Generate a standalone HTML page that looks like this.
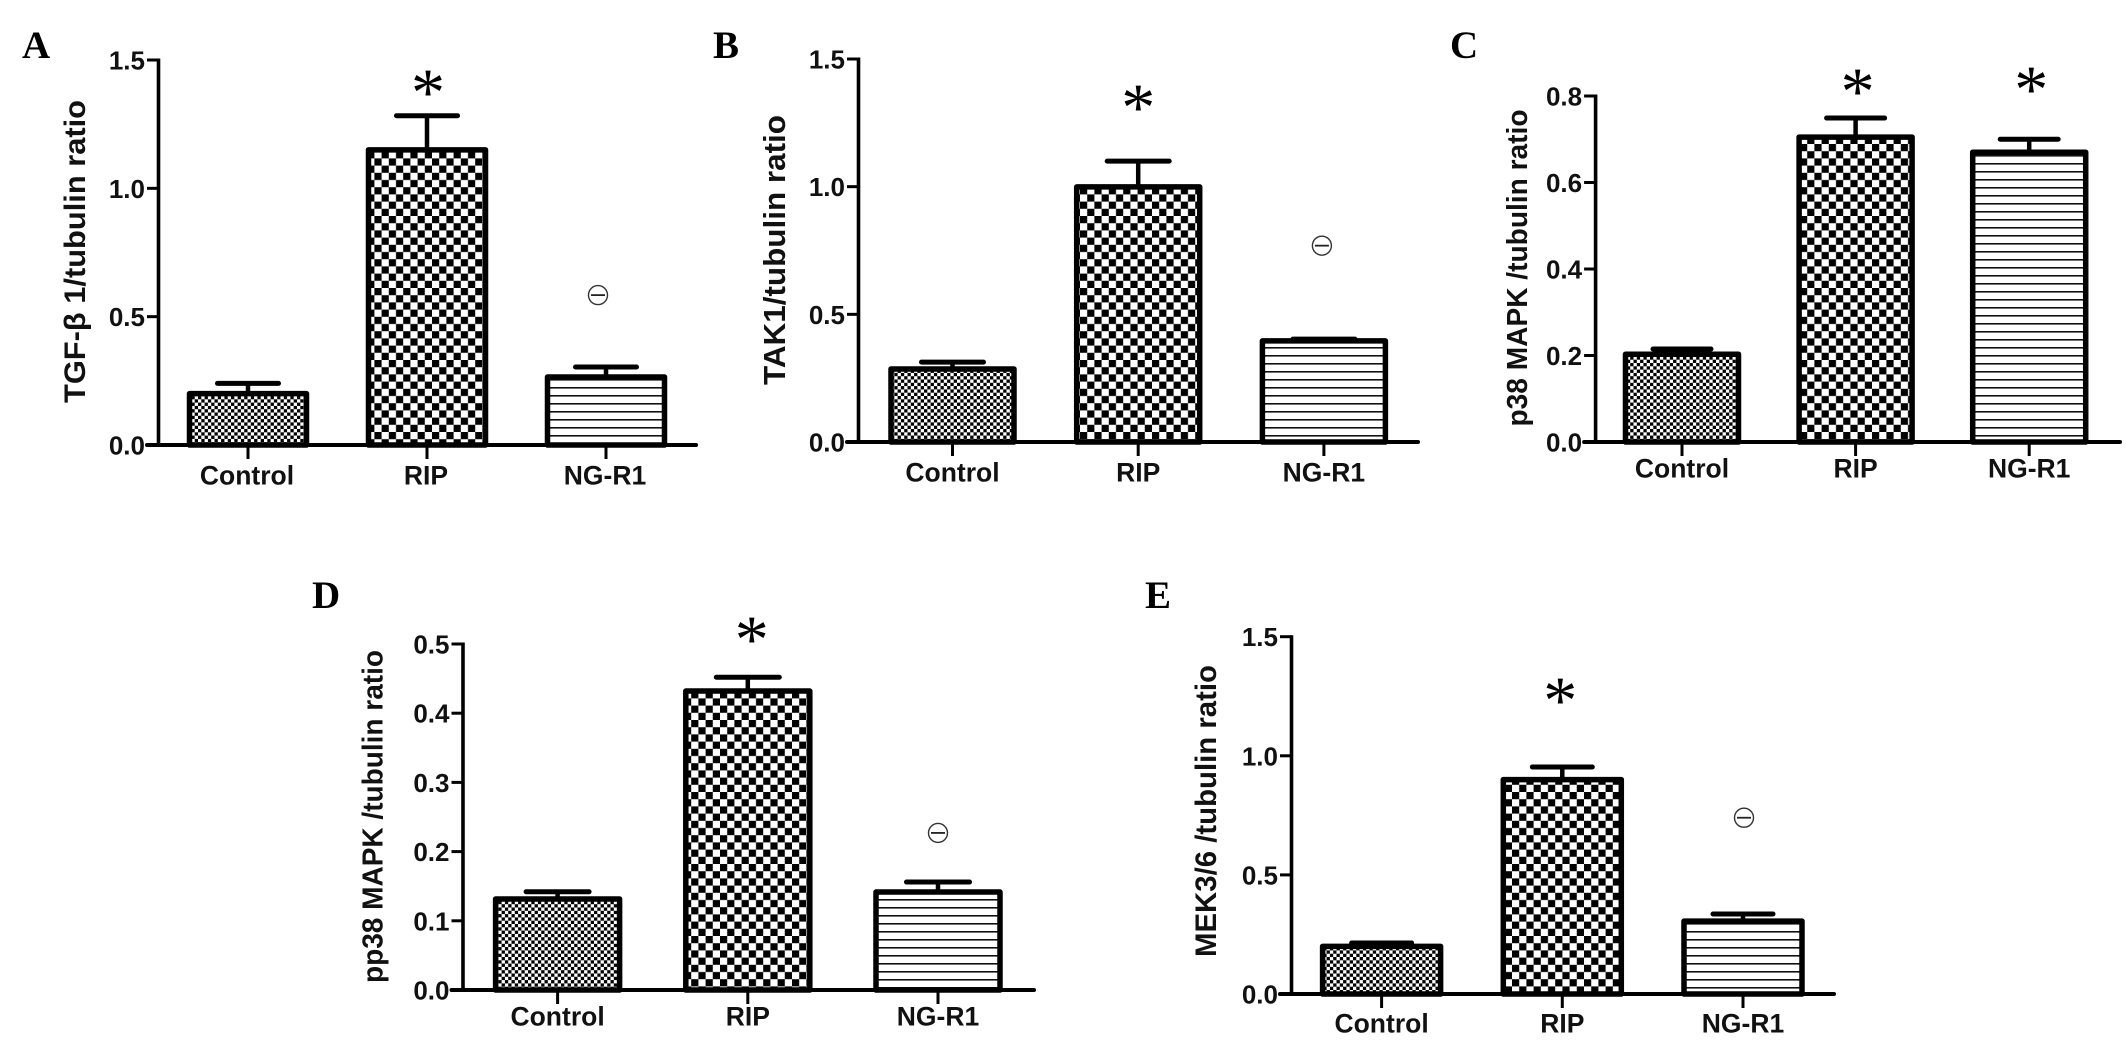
<!DOCTYPE html>
<html lang="en">
<head>
<meta charset="utf-8">
<title>Tubulin ratio bar charts</title>
<style>
  html, body { margin: 0; padding: 0; background: #fff; }
  body { width: 2126px; height: 1042px; overflow: hidden; }
  svg { display: block; }
  text { font-family: "Liberation Sans", Arial, sans-serif; font-weight: 700; fill: #111; }
  text.panel-letter { font-family: "Liberation Serif", "Times New Roman", serif; font-size: 39px; fill: #000; }
  text.star { font-family: "Liberation Serif", "Times New Roman", serif; font-weight: 400; font-size: 68px; fill: #000; }
</style>
</head>
<body>
<svg id="figure" xmlns="http://www.w3.org/2000/svg" width="2126" height="1042" viewBox="0 0 2126 1042">
  <defs>
    <pattern id="fill-fine" patternUnits="userSpaceOnUse" width="6.6" height="6.6">
      <rect width="6.6" height="6.6" fill="#fff"/>
      <rect x="0" y="0" width="3.3" height="3.3" fill="#000"/>
      <rect x="3.3" y="3.3" width="3.3" height="3.3" fill="#000"/>
    </pattern>
    <pattern id="fill-check" patternUnits="userSpaceOnUse" width="14.4" height="14.4">
      <rect width="14.4" height="14.4" fill="#fff"/>
      <rect x="0" y="0" width="7.2" height="7.2" fill="#000"/>
      <rect x="7.2" y="7.2" width="7.2" height="7.2" fill="#000"/>
    </pattern>
    <pattern id="fill-lines" patternUnits="userSpaceOnUse" width="10" height="8">
      <rect width="10" height="8" fill="#fff"/>
      <rect x="0" y="3" width="10" height="1.6" fill="#111"/>
    </pattern>
  </defs>
</svg>
<script>
// ---- Chart data ----
const categories = ['Control', 'RIP', 'NG-R1'];

const ticksA = ['0.0', '0.5', '1.0', '1.5'];
const valuesA = [0.2, 1.15, 0.265];
const errorTopsA = [0.24, 1.283, 0.304];
const starValuesA = [null, 1.41, null];
const minusValuesA = [null, null, 0.584];

const ticksB = ['0.0', '0.5', '1.0', '1.5'];
const valuesB = [0.286, 0.999, 0.396];
const errorTopsB = [0.313, 1.10, 0.403];
const starValuesB = [null, 1.347, null];
const minusValuesB = [null, null, 0.769];

const ticksC = ['0.0', '0.2', '0.4', '0.6', '0.8'];
const valuesC = [0.203, 0.705, 0.67];
const errorTopsC = [0.215, 0.749, 0.70];
const starValuesC = [null, 0.832, 0.837];
const minusValuesC = [null, null, null];

const ticksD = ['0.0', '0.1', '0.2', '0.3', '0.4', '0.5'];
const valuesD = [0.1315, 0.432, 0.1416];
const errorTopsD = [0.142, 0.452, 0.156];
const starValuesD = [null, 0.52, null];
const minusValuesD = [null, null, 0.227];

const ticksE = ['0.0', '0.5', '1.0', '1.5'];
const valuesE = [0.2, 0.9, 0.306];
const errorTopsE = [0.214, 0.953, 0.336];
const starValuesE = [null, 1.272, null];
const minusValuesE = [null, null, 0.74];

// ---- Panel frames (layout only) ----
const panels = [
  { id: 'a', letter: 'A', lx: 22, ly: 58, title: 'TGF-\u03B2  1/tubulin ratio', tfs: 29.5, tx: 85, tc: 251.5, tl: 303,
    axisX: 158.5, axisRight: 696, y0: 445, yTop: 60, first: 248, step: 179, barW: 117, capW: 65, catBase: 484.5, catDx: -1, starDx: 1, minusDx: -8,
    ticks: ticksA, values: valuesA, errors: errorTopsA, stars: starValuesA, minus: minusValuesA },
  { id: 'b', letter: 'B', lx: 713, ly: 58, title: 'TAK1/tubulin ratio', tfs: 30.5, tx: 785, tc: 250, tl: 270,
    axisX: 858.5, axisRight: 1418, y0: 442, yTop: 59, first: 952.5, step: 185.7, barW: 123, capW: 66, catBase: 481.5, catDx: 0, starDx: 0, minusDx: -2,
    ticks: ticksB, values: valuesB, errors: errorTopsB, stars: starValuesB, minus: minusValuesB },
  { id: 'c', letter: 'C', lx: 1450, ly: 58, title: 'p38 MAPK /tubulin ratio', tfs: 28.5, tx: 1527, tc: 268, tl: 317,
    axisX: 1595.6, axisRight: 2120, y0: 442, yTop: 96, first: 1682, step: 173.6, barW: 113, capW: 62, catBase: 477.5, catDx: 0, starDx: 2, minusDx: 0,
    ticks: ticksC, values: valuesC, errors: errorTopsC, stars: starValuesC, minus: minusValuesC },
  { id: 'd', letter: 'D', lx: 312, ly: 608, title: 'pp38 MAPK /tubulin ratio', tfs: 28.5, tx: 382.5, tc: 816.5, tl: 333,
    axisX: 463, axisRight: 1034, y0: 990, yTop: 644, first: 557.6, step: 190.2, barW: 124, capW: 67, catBase: 1025.5, catDx: 0, starDx: 4, minusDx: 0,
    ticks: ticksD, values: valuesD, errors: errorTopsD, stars: starValuesD, minus: minusValuesD },
  { id: 'e', letter: 'E', lx: 1145, ly: 608, title: 'MEK3/6 /tubulin ratio', tfs: 29.5, tx: 1216, tc: 811, tl: 292,
    axisX: 1291.5, axisRight: 1834, y0: 994, yTop: 636.7, first: 1381.6, step: 180.7, barW: 118, capW: 64, catBase: 1032.5, catDx: 0, starDx: -2, minusDx: 1,
    ticks: ticksE, values: valuesE, errors: errorTopsE, stars: starValuesE, minus: minusValuesE }
];

const barFills = ['url(#fill-fine)', 'url(#fill-check)', 'url(#fill-lines)'];
const NS = 'http://www.w3.org/2000/svg';

function make(parent, tag, geometry, content) {
  const node = document.createElementNS(NS, tag);
  for (const key in geometry) node.setAttribute(key, geometry[key]);
  if (content !== undefined) node.textContent = content;
  parent.appendChild(node);
  return node;
}

function slug(text) {
  return text.toLowerCase().replace(/[^a-z0-9]+/g, '-');
}

function drawPanel(p) {
  const root = document.getElementById('figure');
  const group = make(root, 'g', {});
  
  

  const maxTick = parseFloat(p.ticks[p.ticks.length - 1]);
  const yScale = v => p.y0 - (v / maxTick) * (p.y0 - p.yTop);
  const xScale = i => p.first + i * p.step;

  const letter = make(group, 'text', { x: p.lx, y: p.ly, class: 'panel-letter' }, p.letter);
  
  

  const title = make(group, 'text', {
    x: 0, y: 0, 'text-anchor': 'middle', 'font-size': p.tfs,
    textLength: p.tl, lengthAdjust: 'spacingAndGlyphs',
    transform: 'translate(' + p.tx + ' ' + p.tc + ') rotate(-90)'
  }, p.title);
  
  
  title.setAttribute('xml:space', 'preserve');

  categories.forEach((cat, i) => {
    const cx = xScale(i);
    const topY = yScale(p.values[i]);
    const capY = yScale(p.errors[i]);

    const stem = make(group, 'line', { x1: cx, x2: cx, y1: capY, y2: topY, stroke: '#000', 'stroke-width': 4.5 });
    
    

    const cap = make(group, 'line', {
      x1: cx - p.capW / 2 + 2, x2: cx + p.capW / 2 - 2, y1: capY, y2: capY,
      stroke: '#000', 'stroke-width': 5, 'stroke-linecap': 'round'
    });
    
    

    const bar = make(group, 'rect', {
      x: cx - p.barW / 2, y: topY, width: p.barW, height: p.y0 - topY,
      fill: barFills[i], stroke: '#000', 'stroke-width': 5.5, 'stroke-linejoin': 'round'
    });
    
    

    const tick = make(group, 'line', { x1: cx, x2: cx, y1: p.y0, y2: p.y0 + 14, stroke: '#000', 'stroke-width': 3 });
    
    

    const label = make(group, 'text', {
      x: cx + p.catDx, y: p.catBase, 'text-anchor': 'middle', 'font-size': 26.5
    }, cat);
    
    

    if (p.stars[i] !== null) {
      const star = make(group, 'text', {
        x: cx + p.starDx, y: yScale(p.stars[i]) + 32, 'text-anchor': 'middle', class: 'star'
      }, '*');
      
      
    }

    if (p.minus[i] !== null) {
      const my = yScale(p.minus[i]);
      const mx = cx + p.minusDx;
      const ring = make(group, 'circle', { cx: mx, cy: my, r: 9.5, fill: '#fff', stroke: '#333', 'stroke-width': 1.4 });
      
      
      const dash = make(group, 'line', { x1: mx - 7, x2: mx + 7, y1: my, y2: my, stroke: '#222', 'stroke-width': 1.8 });
      
      
    }
  });

  const yAxis = make(group, 'line', { x1: p.axisX, x2: p.axisX, y1: p.yTop - 1.5, y2: p.y0 + 2, stroke: '#000', 'stroke-width': 3.6 });
  
  

  const xAxis = make(group, 'line', { x1: p.axisX - 11.5, x2: p.axisRight, y1: p.y0, y2: p.y0, stroke: '#000', 'stroke-width': 4, 'stroke-linecap': 'round' });
  
  

  p.ticks.forEach(t => {
    const ty = yScale(parseFloat(t));
    const tick = make(group, 'line', { x1: p.axisX - 11.5, x2: p.axisX, y1: ty, y2: ty, stroke: '#000', 'stroke-width': 3 });
    
    

    const label = make(group, 'text', { x: p.axisX - 13.5, y: ty + 9.5, 'text-anchor': 'end', 'font-size': 26 }, t);
    
    
  });
}

panels.forEach(drawPanel);
</script>
</body>
</html>
